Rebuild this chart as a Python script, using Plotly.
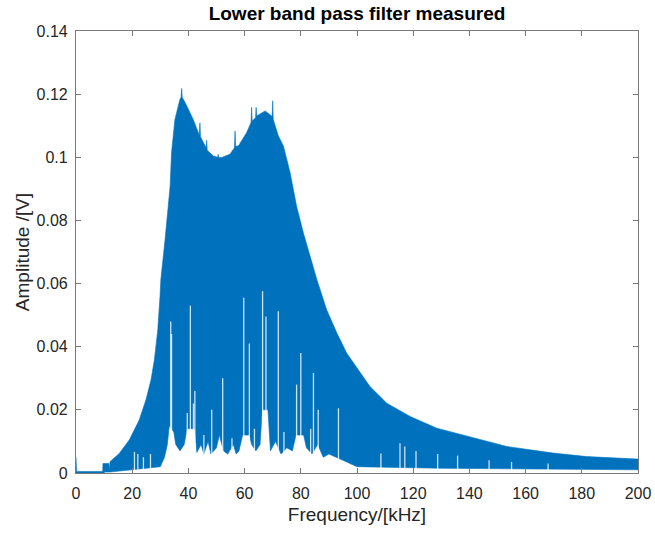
"""Lower band pass filter measured: amplitude spectrum drawn as an envelope band."""

import plotly.graph_objects as go

# upper envelope of the measured spectrum (kHz, V)
upper_freq = [
    0, 0.2, 9.5, 9.6, 11.7, 11.9, 12.1, 15.4, 19.0, 22.5,
    24.9, 26.7, 27.9, 29.1, 29.9, 30.2, 31.7, 32.6, 33.5, 34.0,
    35.2, 37.0, 37.4, 37.6, 37.8, 39.4, 41.7, 43.9, 44.1, 44.3,
    46.3, 46.5, 46.7, 48.9, 50.4, 50.6, 50.8, 51.8, 54.8, 56.4,
    56.6, 56.8, 57.8, 60.7, 62.3, 62.5, 62.7, 63.9, 64.1, 64.3,
    67.3, 69.6, 69.8, 70.0, 70.2, 72.0, 73.8, 75.0, 76.2, 78.5,
    80.9, 83.3, 85.7, 89.2, 92.8, 96.3, 101.1, 104.6, 110.6, 118.9,
    128.4, 140.2, 153.3, 169.9, 181.7, 200,
]
upper_amp = [
    0.005, 0.0005, 0.0005, 0.003, 0.003, 0.0008, 0.0036, 0.0062, 0.0105, 0.0168,
    0.0232, 0.0295, 0.0359, 0.0454, 0.056, 0.0613, 0.074, 0.083, 0.0909, 0.1015,
    0.112, 0.1184, 0.119, 0.1218, 0.119, 0.1163, 0.112, 0.107, 0.1109, 0.1065,
    0.103, 0.1054, 0.1022, 0.1004, 0.1, 0.1009, 0.0999, 0.0999, 0.101, 0.103,
    0.1083, 0.1035, 0.1036, 0.1078, 0.111, 0.1158, 0.1115, 0.1125, 0.1158, 0.1131,
    0.1147, 0.1131, 0.113, 0.1179, 0.112, 0.1068, 0.1036, 0.0994, 0.0951, 0.0845,
    0.0761, 0.0687, 0.0613, 0.0517, 0.0444, 0.038, 0.0317, 0.0274, 0.0221, 0.0179,
    0.0142, 0.0115, 0.0084, 0.0063, 0.0052, 0.0044,
]

# lower envelope (floor) of the spectrum
lower_freq = [
    0, 10, 10.2, 12, 20, 25, 30, 31.5, 32.5, 33.2,
    34.8, 35.5, 37, 38.5, 39.5, 42.3, 43, 44.5, 45.5, 47,
    48, 50, 51, 52.5, 54, 56, 57, 58, 59.3, 61.7,
    62.5, 64, 65.5, 66.3, 68.3, 69.2, 71, 73, 75, 77,
    78.3, 81, 82, 84, 86, 88, 90, 95, 100, 130,
    200,
]
lower_amp = [
    0, 0, 0.0003, 0.0003, 0.001, 0.0015, 0.002, 0.005, 0.009, 0.015,
    0.013, 0.009, 0.007, 0.009, 0.014, 0.014, 0.0065, 0.009, 0.006, 0.01,
    0.006, 0.008, 0.012, 0.007, 0.006, 0.009, 0.006, 0.007, 0.012, 0.012,
    0.009, 0.007, 0.009, 0.02, 0.02, 0.007, 0.01, 0.006, 0.008, 0.007,
    0.012, 0.012, 0.008, 0.006, 0.009, 0.005, 0.006, 0.004, 0.002, 0.0015,
    0.001,
]

# narrow dips where the floor jumps up (white notches)
notch_freq = [
    20.8, 22, 24, 26.5, 33.7, 34.0, 39.6, 40.7, 41.8, 42.3,
    45.5, 48.3, 52.2, 55.5, 59.7, 61.7, 63.5, 66.4, 67.6, 72.0,
    74, 78.5, 80.0, 83.5, 84.5, 86.2, 93.4, 108.5, 115.3, 117,
    121, 128.7, 135.8, 147, 155, 168,
]
notch_top = [
    0.0067, 0.006, 0.005, 0.006, 0.048, 0.044, 0.019, 0.053, 0.022, 0.026,
    0.012, 0.020, 0.030, 0.011, 0.0555, 0.041, 0.014, 0.0576, 0.0496, 0.0512,
    0.013, 0.028, 0.038, 0.014, 0.0317, 0.020, 0.0205, 0.0062, 0.0094, 0.0084,
    0.007, 0.006, 0.0055, 0.004, 0.0035, 0.003,
]

x_ticks = [0, 20, 40, 60, 80, 100, 120, 140, 160, 180, 200]
y_ticks = [0, 0.02, 0.04, 0.06, 0.08, 0.1, 0.12, 0.14]
y_tick_text = ["0", "0.02", "0.04", "0.06", "0.08", "0.1", "0.12", "0.14"]

BLUE = "#0072BD"
AXIS = "#7a7a7a"
TEXT = "#262626"

fig = go.Figure()

# band between the two envelopes
fig.add_trace(
    go.Scatter(
        x=upper_freq + lower_freq[::-1],
        y=upper_amp + lower_amp[::-1],
        fill="toself",
        fillcolor=BLUE,
        line={"color": BLUE, "width": 0.6},
        mode="lines",
        hoverinfo="skip",
        showlegend=False,
    )
)

notch_x, notch_y = [], []
for f, top in zip(notch_freq, notch_top):
    notch_x += [f, f, None]
    notch_y += [0, top, None]
fig.add_trace(
    go.Scatter(
        x=notch_x,
        y=notch_y,
        mode="lines",
        line={"color": "rgba(255,255,255,0.8)", "width": 1.3},
        hoverinfo="skip",
        showlegend=False,
    )
)

axis_common = {
    "showline": True,
    "linecolor": AXIS,
    "linewidth": 1.2,
    "mirror": "ticks",
    "ticks": "inside",
    "ticklen": 5,
    "tickcolor": AXIS,
    "showgrid": False,
    "zeroline": False,
    "automargin": False,
    "tickfont": {"size": 16, "color": TEXT},
}

fig.update_layout(
    width=655,
    height=537,
    paper_bgcolor="white",
    plot_bgcolor="white",
    font={"family": "Liberation Sans, Arial, sans-serif", "color": TEXT},
    margin={"l": 76, "r": 17, "t": 31, "b": 64},
    title={
        "text": "<b>Lower band pass filter measured</b>",
        "x": 0.5,
        "xref": "paper",
        "xanchor": "center",
        "y": 0.976,
        "yanchor": "middle",
        "font": {"size": 19, "color": "black"},
    },
    xaxis={
        **axis_common,
        "range": [0, 200],
        "tickvals": x_ticks,
        "ticklabelstandoff": 6,
        "title": {"text": "Frequency/[kHz]", "font": {"size": 19, "color": TEXT}, "standoff": 6},
    },
    yaxis={
        **axis_common,
        "range": [0, 0.14],
        "tickvals": y_ticks,
        "ticktext": y_tick_text,
        "ticklabelstandoff": 4,
        "title": {"text": "Amplitude /[V]", "font": {"size": 19, "color": TEXT}, "standoff": 1},
    },
)

# drop the default page margin so the figure sits at the window's corner
fig.write_html(
    "out.html",
    config={"displayModeBar": False},
    post_script="document.body.style.margin = '0';",
)
